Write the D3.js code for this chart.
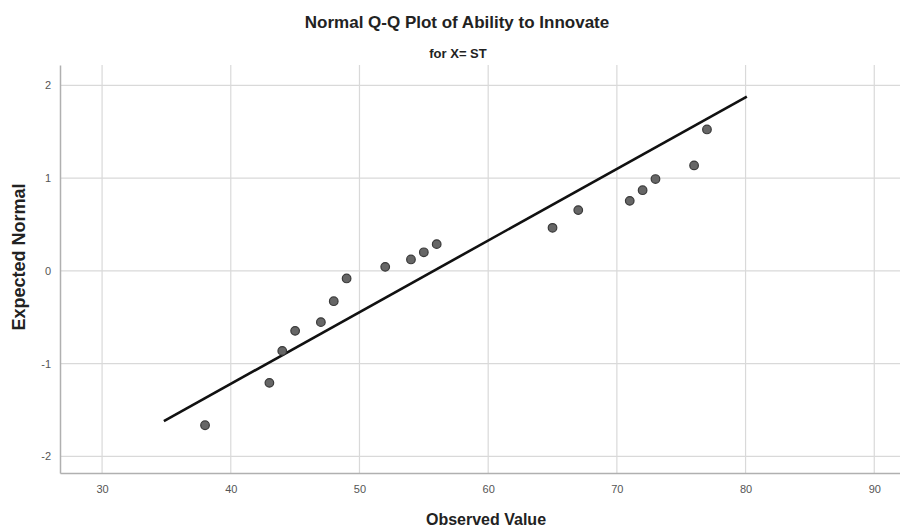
<!DOCTYPE html>
<html>
<head>
<meta charset="utf-8">
<script src="https://cdn.jsdelivr.net/npm/d3@7"></script>
<style>
  body { margin: 0; background: #fff; }
  text { font-family: "Liberation Sans Narrow", "Liberation Sans", Arial, sans-serif; }
</style>
</head>
<body>
<div id="chart"></div>
<script>
let observed = [38, 43, 44, 45, 47, 48, 49, 52, 54, 55, 56, 65, 67, 71, 72, 73, 76, 77];
let expected = [-1.665, -1.208, -0.863, -0.647, -0.553, -0.327, -0.082, 0.043, 0.123, 0.20, 0.288,
                0.464, 0.655, 0.755, 0.87, 0.99, 1.137, 1.525];

// reference line end points
let lineX = [34.8, 80.1];
let lineY = [-1.62, 1.88];

let xTicks = [30, 40, 50, 60, 70, 80, 90];
let yTicks = [-2, -1, 0, 1, 2];

let svgWidth = 900;
let svgHeight = 531;

let margin = { top: 65, right: 0, bottom: 58, left: 60 };
let width = svgWidth - margin.left - margin.right;
let height = svgHeight - margin.top - margin.bottom;

let svg = d3.select("#chart")
  .append("svg")
  .attr("width", svgWidth)
  .attr("height", svgHeight);

let chartGroup = svg.append("g")
  .attr("transform", `translate(${margin.left}, ${margin.top})`);

let xScale = d3.scaleLinear()
  .domain([26.73, 92.0])
  .range([0, width]);

let yScale = d3.scaleLinear()
  .domain([-2.18, 2.22])
  .range([height, 0]);

// gridlines
chartGroup.append("g")
  .selectAll("line.vgrid")
  .data(xTicks)
  .enter()
  .append("line")
  .attr("x1", d => xScale(d))
  .attr("x2", d => xScale(d))
  .attr("y1", 0)
  .attr("y2", height)
  .attr("stroke", "#d9d9d9")
  .attr("stroke-width", 1.2);

chartGroup.append("g")
  .selectAll("line.hgrid")
  .data(yTicks)
  .enter()
  .append("line")
  .attr("x1", 0)
  .attr("x2", width)
  .attr("y1", d => yScale(d))
  .attr("y2", d => yScale(d))
  .attr("stroke", "#d9d9d9")
  .attr("stroke-width", 1.2);

// axes
let bottomAxis = d3.axisBottom(xScale).tickValues(xTicks).tickSize(0).tickPadding(12);
let leftAxis = d3.axisLeft(yScale).tickValues(yTicks).tickSize(0).tickPadding(9)
  .tickFormat(d => String(d));

let xAxis = chartGroup.append("g")
  .attr("transform", `translate(0, ${height})`)
  .call(bottomAxis);

let yAxis = chartGroup.append("g")
  .call(leftAxis);

[xAxis, yAxis].forEach(a => {
  a.select(".domain").attr("stroke", "#b0b0b0").attr("stroke-width", 1.5);
  a.selectAll("text")
    .attr("fill", "#555")
    .style("font-size", "11px");
});

// reference line
chartGroup.append("line")
  .attr("x1", xScale(lineX[0]))
  .attr("y1", yScale(lineY[0]))
  .attr("x2", xScale(lineX[1]))
  .attr("y2", yScale(lineY[1]))
  .attr("stroke", "#111")
  .attr("stroke-width", 2.6);

// points
chartGroup.selectAll("circle")
  .data(observed)
  .enter()
  .append("circle")
  .attr("cx", d => xScale(d))
  .attr("cy", (d, i) => yScale(expected[i]))
  .attr("r", 4.3)
  .attr("fill", "#666")
  .attr("stroke", "#3a3a3a")
  .attr("stroke-width", 1.2);

// titles
svg.append("text")
  .attr("x", 457)
  .attr("y", 28)
  .attr("text-anchor", "middle")
  .style("font-family", "'Liberation Sans', Arial, sans-serif")
  .style("font-weight", "bold")
  .style("font-size", "17px")
  .attr("fill", "#222")
  .text("Normal Q-Q Plot of Ability to Innovate");

svg.append("text")
  .attr("x", 458)
  .attr("y", 58)
  .attr("text-anchor", "middle")
  .style("font-family", "'Liberation Sans', Arial, sans-serif")
  .style("font-weight", "bold")
  .style("font-size", "13px")
  .attr("fill", "#222")
  .text("for X= ST");

svg.append("text")
  .attr("x", 486)
  .attr("y", 525)
  .attr("text-anchor", "middle")
  .style("font-weight", "bold")
  .style("font-size", "16px")
  .attr("fill", "#222")
  .text("Observed Value");

svg.append("text")
  .attr("transform", "translate(25, 257) rotate(-90)")
  .attr("text-anchor", "middle")
  .style("font-family", "'Liberation Sans', Arial, sans-serif")
  .style("font-weight", "bold")
  .style("font-size", "18px")
  .attr("fill", "#222")
  .text("Expected Normal");
</script>
</body>
</html>
